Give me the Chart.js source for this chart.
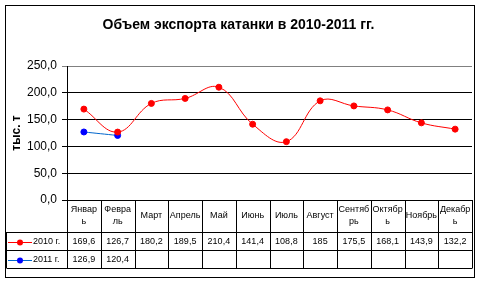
<!DOCTYPE html>
<html>
<head>
<meta charset="utf-8">
<script src="https://cdn.jsdelivr.net/npm/chart.js@4"></script>
<style>
  body { margin: 0; background: #fff; }
  #wrap { width: 481px; height: 284px; }
</style>
</head>
<body>
<div id="wrap"><canvas id="exportChart" width="481" height="284"></canvas></div>
<script>
// Month labels as they are wrapped in the table header
const months = [
    ['Январ', 'ь'], ['Февра', 'ль'], ['Март'], ['Апрель'], ['Май'], ['Июнь'],
    ['Июль'], ['Август'], ['Сентяб', 'рь'], ['Октябр', 'ь'], ['Ноябрь'], ['Декабр', 'ь']
];

// Export volume, thousand tonnes
const exports2010 = [169.6, 126.7, 180.2, 189.5, 210.4, 141.4, 108.8, 185, 175.5, 168.1, 143.9, 132.2];
const exports2011 = [126.9, 120.4];

const seriesNames = ['2010 г.', '2011 г.'];
const lineColors = ['#ff0000', '#0066cc'];
const markerColors = ['#ff0000', '#0000ff'];

const TABLE_FONT = '9px "Liberation Sans", Arial, sans-serif';

function fmt(v) {
    return String(v).replace('.', ',');
}

// Draws the data table under the plot, the legend keys and the outer frame
const dataTablePlugin = {
    id: 'dataTable',
    afterDraw(chart) {
        const ctx = chart.ctx;
        const area = chart.chartArea;
        const x = chart.scales.x;
        const half = (x.getPixelForValue(1) - x.getPixelForValue(0)) / 2;
        const top = Math.round(area.bottom);
        const headBottom = top + 32;
        const rowH = 18;
        const tableLeft = 6;
        const tableRight = Math.round(x.getPixelForValue(months.length - 1) + half);
        const series = [exports2010, exports2011];

        ctx.save();
        ctx.strokeStyle = '#000';
        ctx.lineWidth = 1;
        ctx.beginPath();
        // vertical column lines
        for (let i = 0; i <= months.length; i++) {
            const px = Math.round(x.getPixelForValue(i) - half) + 0.5;
            ctx.moveTo(px, top);
            ctx.lineTo(px, headBottom + rowH * 2);
        }
        // horizontal row lines
        ctx.moveTo(Math.round(area.left) + 0.5, top + 0.5);
        ctx.lineTo(tableRight + 0.5, top + 0.5);
        for (let r = 0; r <= 2; r++) {
            const py = headBottom + rowH * r + 0.5;
            ctx.moveTo(tableLeft + 0.5, py);
            ctx.lineTo(tableRight + 0.5, py);
        }
        // left edge of the legend column
        ctx.moveTo(tableLeft + 0.5, headBottom);
        ctx.lineTo(tableLeft + 0.5, headBottom + rowH * 2);
        ctx.stroke();

        ctx.fillStyle = '#000';
        ctx.font = TABLE_FONT;
        ctx.textAlign = 'center';
        ctx.textBaseline = 'middle';

        // header: month names
        months.forEach((lines, i) => {
            const cx = x.getPixelForValue(i);
            const mid = top + 16;
            const start = mid - (lines.length - 1) * 6;
            lines.forEach((t, k) => ctx.fillText(t, cx, start + k * 12));
        });

        // values
        series.forEach((vals, r) => {
            const cy = headBottom + rowH * r + rowH / 2 + 1;
            vals.forEach((v, i) => ctx.fillText(fmt(v), x.getPixelForValue(i), cy));

            // legend key
            ctx.strokeStyle = lineColors[r];
            ctx.beginPath();
            ctx.moveTo(8, Math.round(cy) + 0.5);
            ctx.lineTo(32, Math.round(cy) + 0.5);
            ctx.stroke();
            ctx.fillStyle = markerColors[r];
            ctx.beginPath();
            ctx.arc(20, Math.round(cy) + 0.5, 3, 0, Math.PI * 2);
            ctx.fill();
            ctx.fillStyle = '#000';
            ctx.textAlign = 'left';
            ctx.fillText(seriesNames[r], 33, cy);
            ctx.textAlign = 'center';
        });

        // outer frame of the chart
        ctx.strokeStyle = '#000';
        ctx.strokeRect(5.5, 5.5, 469, 272);
        ctx.restore();
    }
};

new Chart(document.getElementById('exportChart'), {
    type: 'line',
    data: {
        labels: months,
        datasets: [
            {
                label: seriesNames[0],
                data: exports2010,
                borderColor: lineColors[0],
                backgroundColor: markerColors[0],
                pointBackgroundColor: markerColors[0],
                pointBorderColor: markerColors[0],
                borderWidth: 1,
                pointRadius: 3,
                tension: 0.4,
                fill: false
            },
            {
                label: seriesNames[1],
                data: exports2011,
                borderColor: lineColors[1],
                backgroundColor: markerColors[1],
                pointBackgroundColor: markerColors[1],
                pointBorderColor: markerColors[1],
                borderWidth: 1,
                pointRadius: 3,
                tension: 0.4,
                fill: false
            }
        ]
    },
    options: {
        responsive: false,
        animation: false,
        devicePixelRatio: 1,
        layout: {
            padding: { left: 5, right: 9, top: 0, bottom: 84 }
        },
        plugins: {
            legend: { display: false },
            tooltip: { enabled: false },
            title: {
                display: true,
                text: 'Объем экспорта катанки в 2010-2011 гг.',
                color: '#000',
                font: { family: '"Liberation Sans", Arial, sans-serif', size: 14, weight: 'bold', lineHeight: 1.2 },
                padding: { top: 17, bottom: 32.2 }
            }
        },
        scales: {
            x: {
                type: 'category',
                display: false,
                offset: true
            },
            y: {
                min: 0,
                max: 250,
                afterFit(scale) {
                    scale.width = 62;
                },
                ticks: {
                    stepSize: 50,
                    color: '#000',
                    padding: 5,
                    font: { family: '"Liberation Sans", Arial, sans-serif', size: 12 },
                    callback: function(value) {
                        return value.toFixed(1).replace('.', ',');
                    }
                },
                grid: {
                    color: function(context) {
                        return context.tick && context.tick.value === 250 ? '#808080' : '#000';
                    },
                    tickLength: 5
                },
                border: { display: true, color: '#000', width: 1 },
                title: {
                    display: true,
                    text: 'тыс. т',
                    color: '#000',
                    font: { family: '"Liberation Sans", Arial, sans-serif', size: 12, weight: 'bold' }
                }
            }
        }
    },
    plugins: [dataTablePlugin]
});
</script>
</body>
</html>
